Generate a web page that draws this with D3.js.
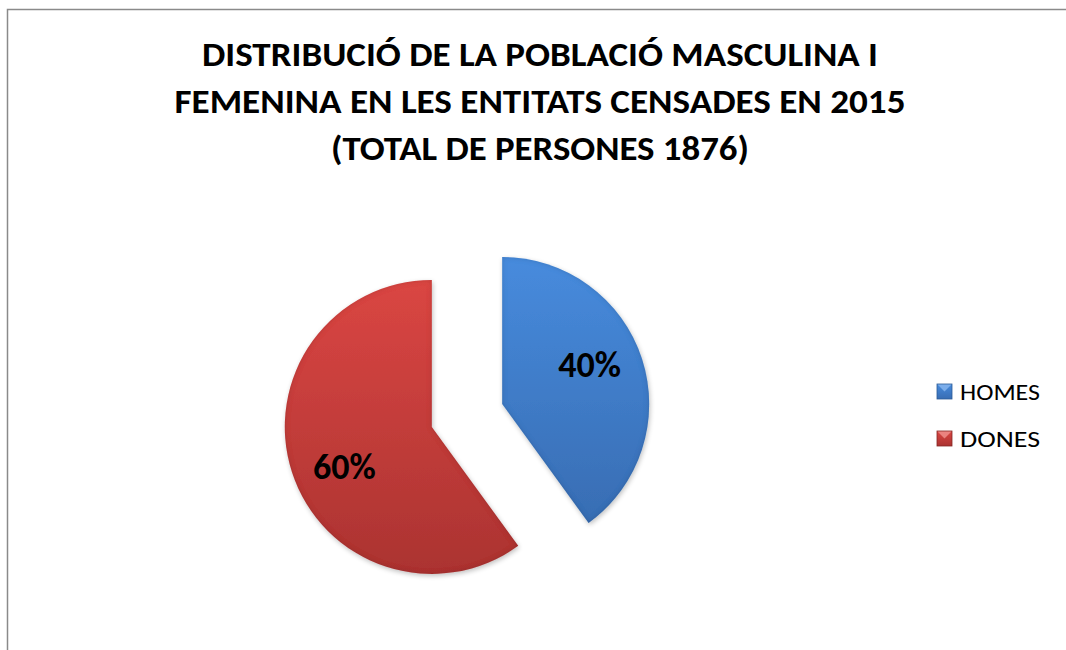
<!DOCTYPE html>
<html>
<head>
<meta charset="utf-8">
<script src="https://cdn.jsdelivr.net/npm/d3@7"></script>
<style>
  body { margin: 0; background: #fff; }
  svg { display: block; }
</style>
</head>
<body>
<div class="canvas"></div>
<script>
// data
const categories = ['HOMES', 'DONES'];
const shares = [40, 60];
const titleLines = [
    'DISTRIBUCIÓ DE LA POBLACIÓ MASCULINA I',
    'FEMENINA EN LES ENTITATS CENSADES EN 2015',
    '(TOTAL DE PERSONES 1876)'
];

const svgDims = { width: 1066, height: 650 };
const font = "Carlito, Calibri, Lato, 'Open Sans', sans-serif";

const svg = d3.select('.canvas')
    .append('svg')
    .attr('width', svgDims.width)
    .attr('height', svgDims.height);

const defs = svg.append('defs');

const palette = {
    HOMES: { top: '#478bdd', bottom: '#386db3', rim: '#2c5a96', light: '#8ab8f0' },
    DONES: { top: '#da4643', bottom: '#ab3331', rim: '#862624', light: '#f09490' }
};

categories.forEach(c => {
    const g = defs.append('linearGradient')
        .attr('id', `grad-${c}`)
        .attr('gradientUnits', 'objectBoundingBox')
        .attr('x1', 0).attr('y1', 0).attr('x2', 0).attr('y2', 1);
    g.append('stop').attr('offset', '0%').attr('stop-color', palette[c].top);
    g.append('stop').attr('offset', '100%').attr('stop-color', palette[c].bottom);
});

// soft bevel: darker rim inside the slice, faint shadow outside
const bevel = defs.append('filter').attr('id', 'bevel')
    .attr('x', '-10%').attr('y', '-10%').attr('width', '120%').attr('height', '120%');
bevel.append('feGaussianBlur').attr('in', 'SourceAlpha').attr('stdDeviation', 2.5).attr('result', 'blur');
bevel.append('feComposite').attr('in', 'SourceAlpha').attr('in2', 'blur')
    .attr('operator', 'out').attr('result', 'edge');
bevel.append('feFlood').attr('flood-color', '#000').attr('flood-opacity', 0.3).attr('result', 'dark');
bevel.append('feComposite').attr('in', 'dark').attr('in2', 'edge')
    .attr('operator', 'in').attr('result', 'rim');
bevel.append('feOffset').attr('in', 'blur').attr('dx', 1).attr('dy', 2).attr('result', 'off');
bevel.append('feComponentTransfer').attr('in', 'off').attr('result', 'shadow')
    .append('feFuncA').attr('type', 'linear').attr('slope', 0.25);
const merge = bevel.append('feMerge');
merge.append('feMergeNode').attr('in', 'shadow');
merge.append('feMergeNode').attr('in', 'SourceGraphic');
merge.append('feMergeNode').attr('in', 'rim');

// chart border
svg.append('rect')
    .attr('x', 7.5).attr('y', 9.5)
    .attr('width', 1200).attr('height', 800)
    .attr('fill', 'none')
    .attr('stroke', '#8a8a8a')
    .attr('stroke-width', 1.5);

// title
const titleWidths = [676, 731, 418];
svg.append('g')
    .selectAll('text')
    .data(titleLines)
    .enter()
    .append('text')
        .attr('x', 540)
        .attr('y', (d, i) => 66 + i * 47)
        .attr('text-anchor', 'middle')
        .attr('font-family', font)
        .attr('font-weight', 900)
        .attr('font-size', 34)
        .attr('fill', '#000')
        .attr('textLength', (d, i) => titleWidths[i])
        .attr('lengthAdjust', 'spacingAndGlyphs')
        .text(d => d);

// pie
const radius = 147;
const explode = 37;
const centre = { x: 467, y: 415.5 };

const pie = d3.pie().sort(null).value(d => d.value);
const arc = d3.arc().innerRadius(0).outerRadius(radius);

const data = categories.map((c, i) => ({ name: c, value: shares[i] }));
const slices = pie(data);

const pieGroup = svg.append('g')
    .attr('transform', `translate(${centre.x}, ${centre.y})`);

const slice = pieGroup.selectAll('g.slice')
    .data(slices)
    .enter()
    .append('g')
        .attr('class', 'slice')
        .attr('transform', d => {
            const a = (d.startAngle + d.endAngle) / 2;
            return `translate(${explode * Math.sin(a)}, ${-explode * Math.cos(a)})`;
        });

slice.append('path')
    .attr('d', arc)
    .attr('fill', d => `url(#grad-${d.data.name})`)
    .attr('filter', 'url(#bevel)');

// labels sit a little anticlockwise of the mid angle, like the original
const labelR = 96;
slice.append('text')
    .attr('transform', d => {
        const a = (d.startAngle + d.endAngle) / 2 - 0.11;
        return `translate(${labelR * Math.sin(a)}, ${-labelR * Math.cos(a)})`;
    })
    .attr('text-anchor', 'middle')
    .attr('dy', '0.35em')
    .attr('font-family', font)
    .attr('font-weight', 900)
    .attr('font-size', 36)
    .attr('fill', '#000')
    .text(d => `${d.data.value}%`);

// legend
const legend = svg.append('g')
    .attr('transform', 'translate(937, 384)');

const item = legend.selectAll('g')
    .data(categories)
    .enter()
    .append('g')
        .attr('transform', (d, i) => `translate(0, ${i * 47})`);

item.append('rect')
    .attr('width', 15).attr('height', 15)
    .attr('fill', d => `url(#grad-${d})`);
item.append('path')
    .attr('d', 'M0,0 L15,0 L7.5,7.5 Z')
    .attr('fill', d => palette[d].light)
    .attr('opacity', 0.8);
item.append('rect')
    .attr('width', 15).attr('height', 15)
    .attr('fill', 'none')
    .attr('stroke', d => palette[d].rim)
    .attr('stroke-width', 0.8);

item.append('text')
    .attr('x', 23)
    .attr('y', 16)
    .attr('font-family', font)
    .attr('font-size', 22)
    .attr('fill', '#000')
    .attr('textLength', 80)
    .attr('lengthAdjust', 'spacingAndGlyphs')
    .text(d => d);
</script>
</body>
</html>
